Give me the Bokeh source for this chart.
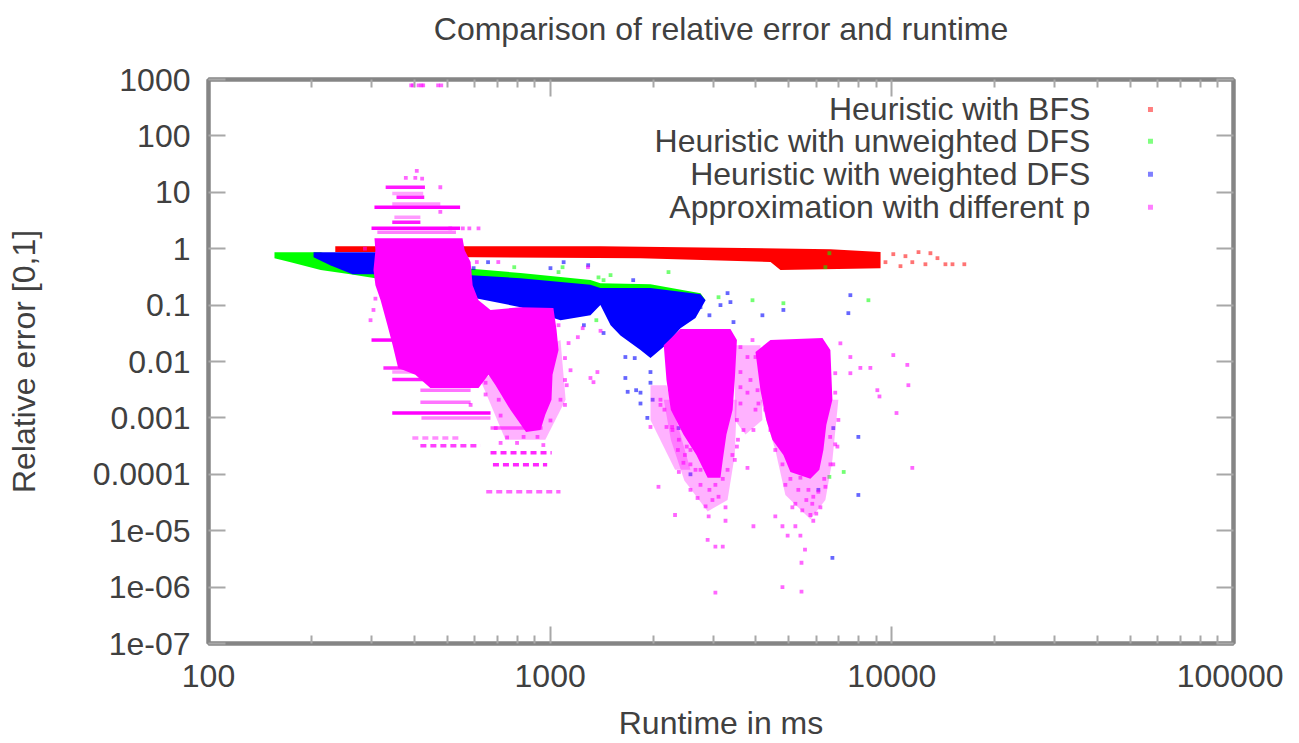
from bokeh.plotting import figure
from bokeh.embed import file_html
from bokeh.resources import INLINE
from bokeh.models import FixedTicker, LogAxis, CustomJSTickFormatter
from bokeh.core.properties import value

title_text = "Comparison of relative error and runtime"
x_label = "Runtime in ms"
y_label = "Relative error [0,1]"
legend_labels = ["Heuristic with BFS", "Heuristic with unweighted DFS",
                 "Heuristic with weighted DFS", "Approximation with different p"]
x_ticks = [100, 1000, 10000, 100000]
x_minor = [m * d for d in (100, 1000, 10000) for m in range(2, 10)]
x_tick_labels = {"2": "100", "3": "1000", "4": "10000", "5": "100000"}
y_ticks = [1e-7, 1e-6, 1e-5, 1e-4, 1e-3, 1e-2, 1e-1, 1, 10, 100, 1000]
y_tick_labels = {"-7": "1e-07", "-6": "1e-06", "-5": "1e-05", "-4": "0.0001", "-3": "0.001",
                 "-2": "0.01", "-1": "0.1", "0": "1", "1": "10", "2": "100", "3": "1000"}

# Dense regions: outlines of the point clouds (runtime in ms, relative error)
red_x = [235, 1403, 6615, 9268, 9268, 4721, 4416, 1838, 478, 446, 235]
red_y = [1.11, 1.11, 0.98, 0.87, 0.45, 0.42, 0.58, 0.68, 0.71, 0.87, 0.87]
red_sx = [9580, 10100, 10600, 10960, 11480, 11970, 12540, 12970, 13600, 14350, 15050, 16300]
red_sy = [.577, .8, .49, .736, .577, .867, .53, .83, .68, .53, .53, .53]

green_wedge_x = [156, 213, 260, 319, 308, 260, 213, 174, 156]
green_wedge_y = [.867, .867, .577, .385, .3, .354, .417, .577, .68]
green_strip_x = [565, 819, 1312, 1403, 1966, 2754, 2850, 1403, 565]
green_strip_y = [.452, .37, .28, .245, .235, .163, .122, .15, .226]
green_sx = [2220, 3110, 3910, 4815, 8540, 7230, 6565, 6565, 6390, 785, 1087, 1058, 1502, 1385, 1880, 1433, 1365]
green_sy = [.385, .138, .122, .108, .122, .00011, .00009, .83, .47, .47, .47, .385, .34, .31, .208, .277, .054]

blue_wedge_x = [203, 319, 319, 264, 227, 203]
blue_wedge_y = [.867, .867, .354, .354, .51, .707]
blue_main_x = [573, 819, 1312, 1403, 1966, 2754, 2850, 2663, 2406, 2176, 1966, 1838, 1606, 1503, 1403, 1312, 1072, 819, 585]
blue_main_y = [.34, .3, .23, .2, .2, .155, .122, .059, .039, .0195, .0115, .016, .029, .044, .1, .066, .054, .092, .138]
blue_sx = [2925, 4180, 7562, 7460, 3440, 3305, 4815, 2754, 3370, 3151, 1785, 1966, 1838, 1686, 1660, 1768, 1925, 2574,
           1660, 1433, 1255, 2375, 1966, 1995, 1838, 6740, 7980, 7980, 6700, 6095, 658, 1095, 1292, 597, 1002, 1750]
blue_sy = [.066, .066, .15, .072, .05, .163, .082, .092, .113, .1, .0031, .0042, .0028, .0029, .0051, .0115, .001, .0001,
           .012, .032, .044, .00066, .0065, .0021, .0018, .00066, .00046, .000043, .0000033, .000053, .577, .577, .51,
           .452, .452, .277]

mag_cloud12_x = [306, 554, 562, 585, 593, 617, 669, 819, 1022, 1044, 1058, 1016, 1009, 968, 937, 850, 765, 692, 660, 617,
                 446, 403, 359, 346, 334, 319, 308, 304, 308]
mag_cloud12_y = [1.53, 1.53, .94, .58, .226, .122, .082, .092, .089, .036, .016, .0058, .0021, .00115, .00061, .00056,
                 .00139, .0038, .0058, .0034, .0034, .0058, .0077, .0195, .044, .122, .226, .417, .94]
mag_cloud3_x = [2406, 3370, 3520, 3470, 3420, 3280, 3200, 3151, 2890, 2680, 2455, 2255, 2190, 2150]
mag_cloud3_y = [.0375, .0375, .024, .0047, .0014, .00051, .00018, .000087, .000087, .00022, .00051, .0014, .0047, .0195]
mag_cloud4_x = [4412, 6265, 6609, 6700, 6430, 6305, 6135, 5776, 5048, 4815, 4470, 4290, 4125, 3990]
mag_cloud4_y = [.024, .026, .016, .0021, .00075, .00027, .00012, .000083, .00011, .00022, .00041, .00092, .0031, .0147]

# Sparser regions around the clouds
mag_sparse_x = [[2150, 3520, 3470, 3305, 2890, 2470, 2255],
                [4125, 6975, 6700, 6390, 5776, 4880, 4560],
                [3470, 4125, 4180, 3730, 3470],
                [625, 1072, 1110, 968, 740],
                [1966, 2190, 2574, 2320, 1966]]
mag_sparse_y = [[.0021, .0021, .00022, .000035, .000022, .000078, .00041],
                [.0021, .0021, .00018, .000035, .000016, .000043, .00027],
                [.0195, .0195, .00092, .00051, .00092],
                [.0047, .024, .0021, .00041, .00041],
                [.0038, .0038, .00012, .00012, .00092]]

# Discrete error levels of the approximation: error, runtime from, runtime to, strength
band_err = [5.43, 2.3, 1.96, 12.3, 8.2, 9.5, 6.2, 2.94, 3.6, .024, .0077, .0065, .0048, .0031, .0019, .00122, .001, .00066]
band_lo = [306, 300, 312, 330, 355, 345, 345, 345, 350, 300, 325, 345, 345, 417, 417, 345, 420, 669]
band_hi = [545, 545, 530, 430, 428, 425, 477, 417, 417, 365, 446, 446, 446, 585, 585, 669, 669, 950]
band_alpha = [1, 1, .5, .9, .9, .35, .4, .9, .4, 1, .85, .4, .9, .55, .55, 1, .5, .6]
dotted_err = [.00044, .00032, .00024, .000147, .000049]
dotted_lo = [395, 417, 669, 680, 650]
dotted_hi = [545, 625, 1010, 980, 1072]
dotted_alpha = [.45, .75, .85, .85, .6]

mag_sx = [1205, 1132, 1105, 1147, 1105, 1118, 1072, 1105, 1002, 1312, 1339, 1375, 1245, 1404, 1058,
          693, 748, 836, 918, 716, 800, 955, 617, 647, 707, 585, 716, 647,
          304, 308, 298, 287, 323,
          392, 397, 412, 420, 425, 470, 480,
          407, 378, 403, 422, 477, 555, 477, 510, 580, 617, 705, 610, 1290,
          3605, 3780, 3605, 3605, 3857, 3780, 3605, 3990, 3680, 3935, 3520, 3910, 3520, 3470, 3780, 3990, 4045, 4070,
          7070, 7562, 10100, 11100, 8089, 8653, 7562, 11180, 9070, 9200, 10320, 11480, 6930, 6740, 6830, 6830, 6600, 6390, 5890,
          2075, 2850, 2320, 2910, 3260, 2574, 2700, 3110, 3260, 3935, 4785, 5220, 4560, 5776, 5470, 6179, 5115, 5890,
          5400, 4955, 2890, 3045, 3200, 5570, 5440, 4785, 5440, 3045,
          2455, 2380, 2510, 2365, 2190, 2103, 2103, 2275, 1966,
          2280, 2380, 2480, 2574, 2663, 2754, 2925, 3045, 3200, 3305, 3415, 3545, 2754, 2985, 2574, 2406, 2160, 2280,
          4560, 4785, 5048, 5325, 5620, 5850, 6095, 6340, 6609, 6830, 6975, 5220, 4880, 4412, 4265, 5700, 5400, 6010]
mag_sy = [.027, .0212, .0115, .007, .0047, .0038, .0021, .0017, .0009, .0051, .0043, .0065, .039, .035, .044,
          .00066, .00045, .00046, .00046, .00036, .00036, .00033, .0047, .0042, .0021, .0017, .0011, .0026,
          .082, .13, .054, 1.0, 1.0,
          786, 786, 786, 786, 786, 786, 786,
          24, 18, 18, 17.5, 12.3, 2.3, 4.5, 2.3, 2.3, 2.3, .58, .58, .47,
          .018, .012, .0065, .0035, .0047, .0028, .0018, .0014, .00061, .00061, .00092, .024, .00031, .00018, .00013, .012, .0031, .0018,
          .021, .012, .013, .0087, .0077, .0077, .0062, .0038, .0031, .0024, .00122, .00013, .00031, .00015, .0062, .0028, .00046, .00006, .00004,
          .00006, .000027, .000019, .000018, .000026, .000053, .000038, .00004, .000015, .000012, .000012, .000012, .000018, .000019, .000023, .000026, .000026, .000015,
          .0000082, .0000082, .0000069, .0000052, .0000052, .0000046, .0000027, .000001, .00000083, .0000008,
          .00016, .00011, .00031, .00027, .00069, .0021, .0017, .00069, .00069,
          .00061, .00041, .00022, .00015, .00012, .000065, .000053, .000065, .000083, .00012, .00022, .00041, .00012, .000035, .00027, .00092, .0014, .0025,
          .00027, .00015, .000083, .000053, .000035, .00003, .000049, .000083, .00015, .00034, .00092, .00003, .000065, .00061, .0014, .000053, .000087, .00002]

legend_colors = ["#ff0000", "#00ff00", "#0000ff", "#ff00ff"]
legend_err = [294, 80, 20.8, 5.43]
legend_text_ms = 38100
legend_mark_ms = 57150

GRAY = "#858585"
TICK = "#a8a8a8"
TEXT = "#404040"
FONT = "Liberation Sans"
FS = "32px"

p = figure(width=1283, height=743, x_axis_type="log", y_axis_type="log",
           x_range=(100, 100000), y_range=(1e-7, 1000), output_backend="svg", toolbar_location=None,
           min_border_left=208, min_border_right=50, min_border_top=79, min_border_bottom=100,
           title=title_text)
p.title.align = "center"
p.title.text_font = FONT
p.title.text_font_size = FS
p.title.text_font_style = "normal"
p.title.text_color = TEXT
p.title.standoff = 0
p.grid.visible = False
p.outline_line_color = GRAY
p.outline_line_width = 4

x_js = CustomJSTickFormatter(args=dict(labels=x_tick_labels),
                             code="return labels[String(Math.round(Math.log10(tick)))];")
y_js = CustomJSTickFormatter(args=dict(labels=y_tick_labels),
                             code="return labels[String(Math.round(Math.log10(tick)))];")
blank = CustomJSTickFormatter(code="return '';")


def style(ax, labelled, minor):
    ax.axis_line_color = GRAY
    ax.axis_line_width = 4
    ax.major_tick_line_color = TICK
    ax.major_tick_line_width = 2
    ax.major_tick_in = 17
    ax.major_tick_out = 0
    ax.minor_tick_line_color = TICK if minor else None
    ax.minor_tick_line_width = 2
    ax.minor_tick_in = 8
    ax.minor_tick_out = 0
    if labelled:
        ax.major_label_text_font = FONT
        ax.major_label_text_font_size = FS
        ax.major_label_text_color = TEXT


xa = p.xaxis[0]
xa.ticker = FixedTicker(ticks=x_ticks, minor_ticks=x_minor)
xa.formatter = x_js
style(xa, True, True)
xa.major_label_standoff = 21
xa.axis_label = x_label
xa.axis_label_text_font = FONT
xa.axis_label_text_font_size = FS
xa.axis_label_text_font_style = "normal"
xa.axis_label_text_color = TEXT
xa.axis_label_standoff = 15

ya = p.yaxis[0]
ya.ticker = FixedTicker(ticks=y_ticks)
ya.formatter = y_js
style(ya, True, False)
ya.major_label_standoff = 18
ya.axis_label = y_label
ya.axis_label_text_font = FONT
ya.axis_label_text_font_size = FS
ya.axis_label_text_font_style = "normal"
ya.axis_label_text_color = TEXT
ya.axis_label_standoff = 48

top = LogAxis(ticker=FixedTicker(ticks=x_ticks, minor_ticks=x_minor), formatter=blank)
style(top, False, True)
p.add_layout(top, "above")
right = LogAxis(ticker=FixedTicker(ticks=y_ticks), formatter=blank)
style(right, False, False)
p.add_layout(right, "right")

# Invisible spacer between the frame and the title
spacer = LogAxis(ticker=FixedTicker(ticks=x_ticks), formatter=blank, axis_line_color=None,
                 major_tick_line_color=None, minor_tick_line_color=None,
                 major_tick_in=0, major_tick_out=33, minor_tick_in=0, minor_tick_out=0)
p.add_layout(spacer, "above")

R, G, B, M = legend_colors
DOT = 3.8

p.patch(red_x, red_y, color=R, line_width=0)
p.scatter(red_sx, red_sy, marker="square", size=DOT, color=R, alpha=.55, line_color=None)

p.patch(green_wedge_x, green_wedge_y, color=G, line_width=0)
p.patch(green_strip_x, green_strip_y, color=G, line_width=0)
p.scatter(green_sx, green_sy, marker="square", size=DOT, color=G, alpha=.55, line_color=None)

p.patch(blue_wedge_x, blue_wedge_y, color=B, line_width=0)
p.patch(blue_main_x, blue_main_y, color=B, line_width=0)
p.scatter(blue_sx, blue_sy, marker="square", size=DOT, color=B, alpha=.6, line_color=None)

p.patches(mag_sparse_x, mag_sparse_y, color=M, fill_alpha=.3, line_width=0)
p.segment(band_lo, band_err, band_hi, band_err, line_color=M, line_width=3.5,
          line_alpha=band_alpha)
p.segment(dotted_lo, dotted_err, dotted_hi, dotted_err, line_color=M, line_width=3.5,
          line_alpha=dotted_alpha, line_dash="6 4")
p.patch(mag_cloud12_x, mag_cloud12_y, color=M, line_width=0)
p.patch(mag_cloud3_x, mag_cloud3_y, color=M, line_width=0)
p.patch(mag_cloud4_x, mag_cloud4_y, color=M, line_width=0)
p.scatter(mag_sx, mag_sy, marker="square", size=DOT, color=M, alpha=.6, line_color=None)

p.text([legend_text_ms] * 4, legend_err, text=legend_labels, text_align="right", text_baseline="middle",
       text_font=value(FONT), text_font_size=FS, text_color=TEXT)
p.scatter([legend_mark_ms] * 4, legend_err, marker="square", size=5, color=legend_colors, alpha=.5, line_color=None)

open("out.html", "w").write(file_html(p, INLINE))
